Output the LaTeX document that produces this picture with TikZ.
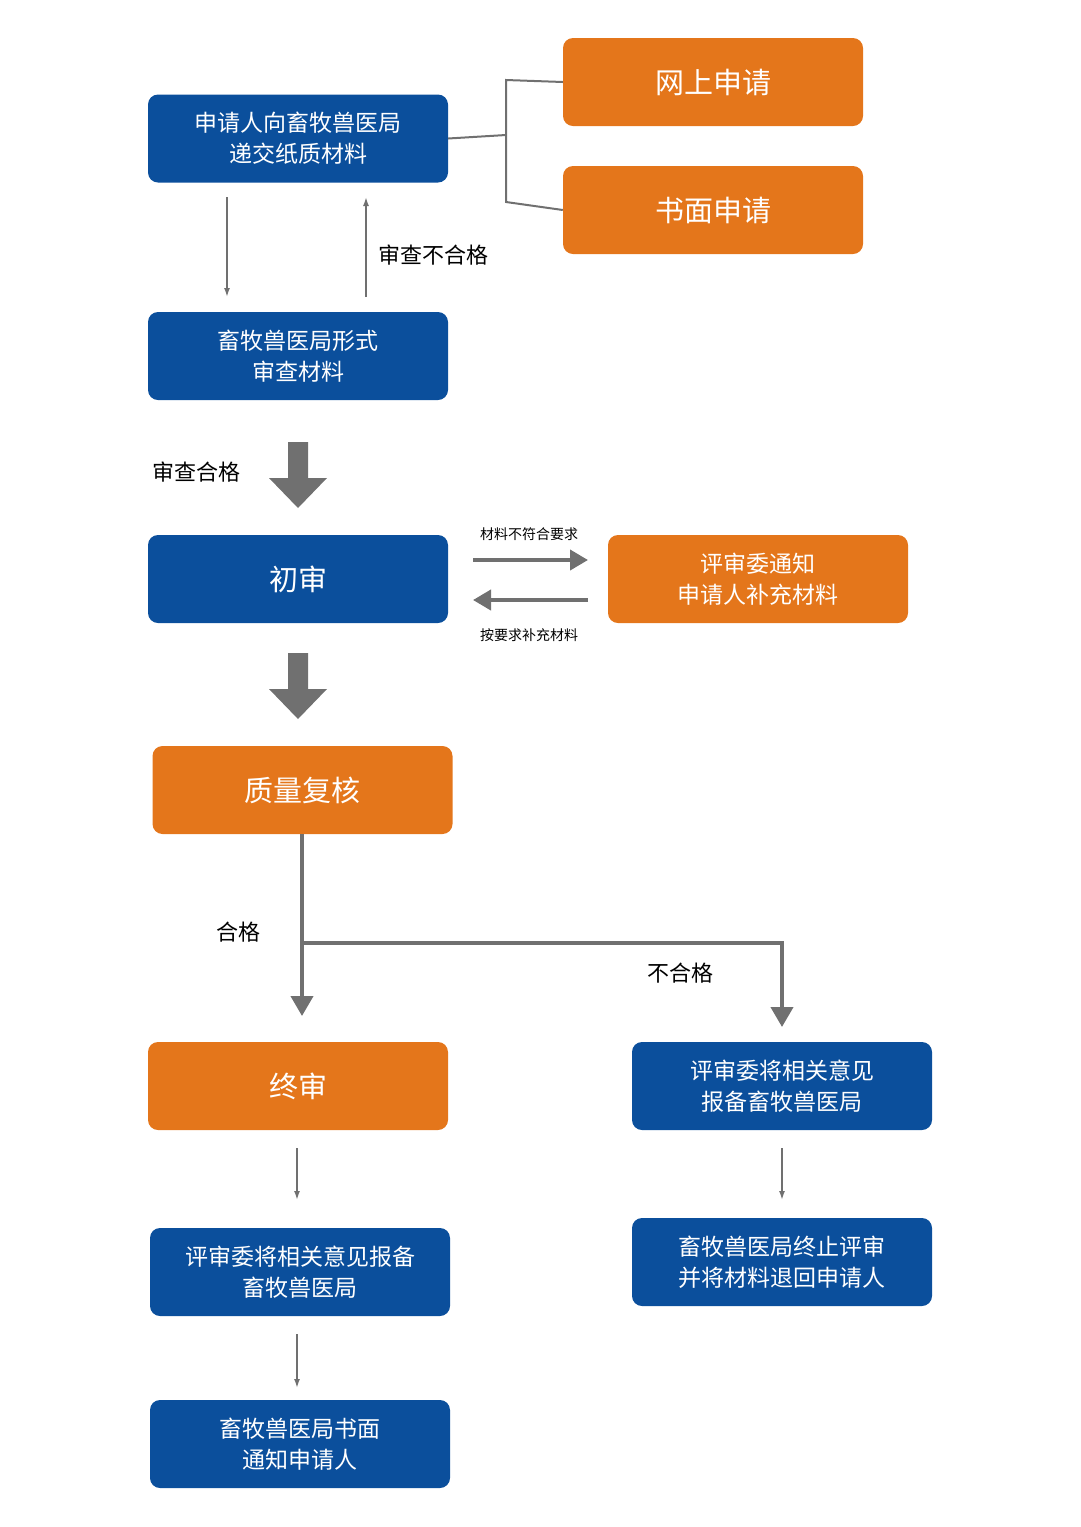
\documentclass[tikz,border=0pt]{standalone}
\usepackage{fontspec}
\setmainfont{Noto Sans CJK SC}
\usetikzlibrary{arrows.meta}
\definecolor{bl}{HTML}{0B4F9C}
\definecolor{og}{HTML}{E4761B}
\definecolor{gr}{HTML}{707070}
\begin{document}
\begin{tikzpicture}[x=1pt,y=-1pt,
 box/.style={rounded corners=10pt,minimum width=300pt,minimum height=88pt,text=white,align=center,inner sep=0pt,font=\fontsize{23}{31}\selectfont},
 big/.style={font=\fontsize{29}{34}\selectfont},
 B/.style={box,fill=bl},O/.style={box,fill=og},
 ln/.style={draw=gr,line width=1.6pt,-{Latex[length=9pt,width=6pt]}},
 th/.style={draw=gr,line width=4pt,-{Triangle[length=18pt,width=20pt]}},
 lab/.style={font=\fontsize{22}{26}\selectfont,text=black},
 sl/.style={font=\fontsize{14}{16}\selectfont,text=black}]
\useasboundingbox (0,0) rectangle (1080,1527);
\node[B] (a) at (298,138.5) {申请人向畜牧兽医局\\递交纸质材料};
\node[O,big] (b) at (713,82) {网上申请};
\node[O,big] (c) at (713,210) {书面申请};
\node[B] (d) at (298,356) {畜牧兽医局形式\\审查材料};
\node[B,big] (e) at (298,579) {初审};
\node[O] (f) at (758,579) {评审委通知\\申请人补充材料};
\node[O,big] (g) at (302.5,790) {质量复核};
\node[O,big] (h) at (298,1086) {终审};
\node[B] (i) at (782,1086) {评审委将相关意见\\报备畜牧兽医局};
\node[B] (j) at (300,1272) {评审委将相关意见报备\\畜牧兽医局};
\node[B] (k) at (782,1262) {畜牧兽医局终止评审\\并将材料退回申请人};
\node[B] (l) at (300,1444) {畜牧兽医局书面\\通知申请人};
\draw[gr,line width=2pt] (a.east) -- (506,135) coordinate (m);
\draw[gr,line width=2pt] (b.west) -- (506,80) -- (506,202) -- (c.west);
\draw[ln] (227,197) -- (227,297);
\draw[ln] (366,297) -- (366,197);
\node[lab,anchor=west] at (375,255) {审查不合格};
\fill[gr] (288,442) -- (308,442) -- (308,478) -- (327,478) -- (298,508) -- (269,478) -- (288,478) -- cycle;
\node[lab] at (196,472) {审查合格};
\draw[th] (473,560) -- (588,560);
\draw[th] (588,600) -- (473,600);
\node[sl] at (529,534) {材料不符合要求};
\node[sl] at (529,635) {按要求补充材料};
\fill[gr] (288,653) -- (308,653) -- (308,689) -- (327,689) -- (298,719) -- (269,689) -- (288,689) -- cycle;
\draw[gr,line width=4pt,-{Triangle[length=20pt,width=22pt]}] (g.south -| 302,0) -- (302,1016);
\draw[gr,line width=4pt,-{Triangle[length=20pt,width=22pt]}] (302,943) -- (782,943) -- (782,1027);
\node[lab] at (238,932) {合格};
\node[lab] at (680,973) {不合格};
\draw[ln] (297,1148) -- (297,1200);
\draw[ln] (782,1148) -- (782,1200);
\draw[ln] (297,1334) -- (297,1388);
\end{tikzpicture}
\end{document}
